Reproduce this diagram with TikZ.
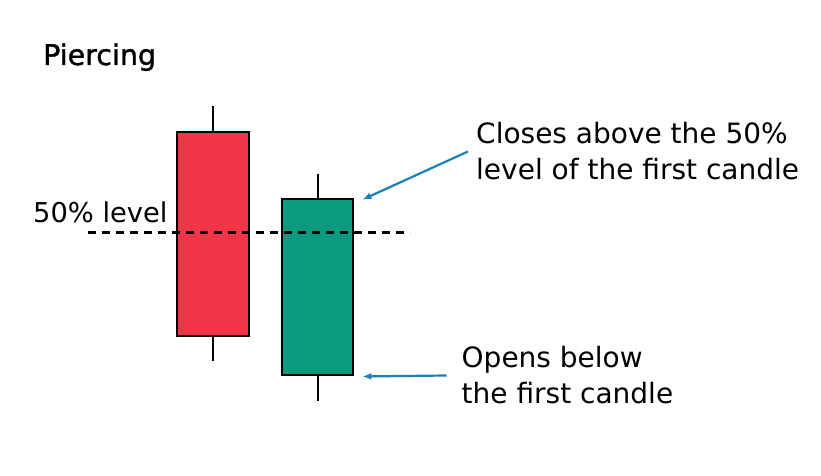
\documentclass[tikz,border=0pt]{standalone}
\usepackage{fontspec}
\setmainfont{DejaVu Sans}
\newfontfamily\titlefont[FakeBold=1.2]{DejaVu Sans}
\usetikzlibrary{positioning,arrows.meta}
\definecolor{bearred}{HTML}{F23547}
\definecolor{bullgreen}{HTML}{0A9A80}
\definecolor{notearrow}{HTML}{1A80B6}
\begin{document}
\begin{tikzpicture}[x=1pt,y=-1pt,
	body/.style={draw=black,line width=2.3pt,inner sep=0pt},
	wick/.style={line width=2.3pt},
	note/.style={align=left,inner sep=0pt,font=\fontsize{28}{36}\selectfont},
	pointer/.style={->,>={Latex[length=9pt,width=7pt]},line width=2.2pt,color=notearrow}]
	\useasboundingbox (0,0) rectangle (821,476);
	
	%title
	\node[anchor=base west,inner sep=0pt,font=\titlefont\fontsize{28.5}{32}\selectfont] (title) at (43,65) {Piercing};
	
	%candles
	\node[body,fill=bearred,minimum width=72pt,minimum height=204pt] (first) at (213.3,233.8) {};
	\node[body,fill=bullgreen,minimum width=71pt,minimum height=176pt] (second) at (317.7,287.3) {};
		\coordinate (firsthigh) at (213.3,106.5);
		\coordinate (firstlow) at (213.3,361);
		\coordinate (secondhigh) at (317.7,174);
		\coordinate (secondlow) at (317.7,400.5);
	\draw[wick] (first.north)--(firsthigh);		%upper wick
	\draw[wick] (first.south)--(firstlow);		%lower wick
	\draw[wick] (second.north)--(secondhigh);	%upper wick
	\draw[wick] (second.south)--(secondlow);	%lower wick
	
	%dashed line
	\node[anchor=base west,inner sep=0pt,font=\fontsize{27.3}{32}\selectfont] (level) at (33,222.5) {50\% level};
		\coordinate (lvlstart) at (88,232.7);
		\coordinate (lvlend) at (410,232.7);
	\draw[line width=2.5pt,dash pattern=on 8pt off 6pt] (lvlstart)--(lvlend);
	
	%notes
	\node[note,anchor=west] (closes) at (476,151.5) {Closes above the 50\%\\level of the first candle};
	\node[note,anchor=west] (opens) at (461.5,375.5) {Opens below\\the first candle};
	
	%arrows
		\coordinate (closestart) at ([xshift=-8pt]closes.west);
		\coordinate (opensstart) at ([xshift=-15pt]opens.west);
	\draw[pointer] (closestart)--([xshift=8pt,yshift=-1.5pt]second.north east);	%upper
	\draw[pointer] (opensstart)--([xshift=8pt]second.south east);				%lower
\end{tikzpicture}
\end{document}
